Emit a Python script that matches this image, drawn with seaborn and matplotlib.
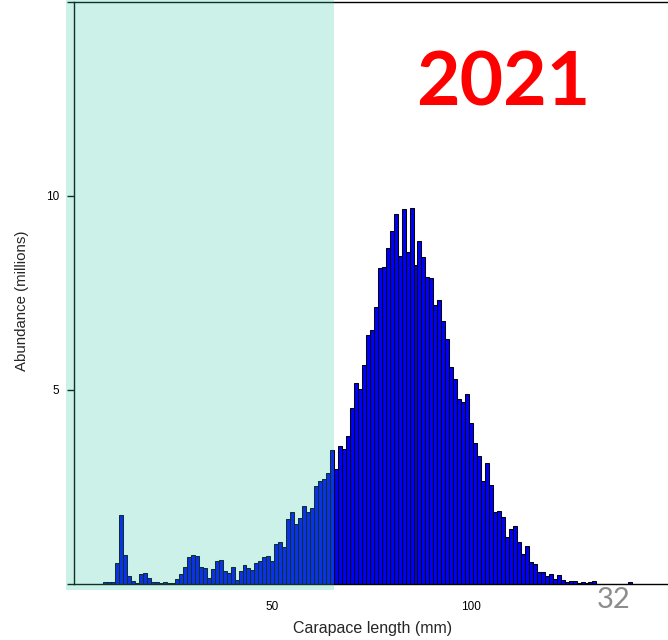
import matplotlib
matplotlib.use("Agg")
import matplotlib.pyplot as plt
from matplotlib.patches import Rectangle
import seaborn as sns
import pandas as pd

# ---- data ----
lengths_mm = list(range(8, 132)) + [140]
abundance_millions = [
    0.04, 0.04, 0.04, 0.54, 1.78, 0.75, 0.20, 0.08, 0.03, 0.26,   # 8-17
    0.29, 0.15, 0.06, 0.06, 0.02, 0.06, 0.02, 0.02, 0.13, 0.26,   # 18-27
    0.45, 0.69, 0.75, 0.72, 0.45, 0.41, 0.15, 0.38, 0.59, 0.62,   # 28-37
    0.34, 0.29, 0.45, 0.11, 0.33, 0.48, 0.40, 0.37, 0.53, 0.59,   # 38-47
    0.70, 0.72, 0.59, 1.02, 1.07, 0.96, 1.67, 1.85, 1.55, 1.69,   # 48-57
    2.01, 1.85, 1.95, 2.53, 2.65, 2.70, 2.86, 3.45, 2.96, 3.56,   # 58-67
    3.48, 3.82, 4.53, 5.18, 5.02, 5.64, 6.42, 6.55, 7.15, 8.14,   # 68-77
    8.17, 8.65, 9.10, 9.53, 8.45, 9.66, 8.56, 9.69, 8.22, 8.85,   # 78-87
    8.44, 7.90, 7.89, 7.18, 7.32, 6.78, 6.31, 5.58, 5.28, 4.77,   # 88-97
    4.69, 4.90, 4.14, 3.63, 3.31, 2.66, 3.13, 2.55, 1.85, 1.88,   # 98-107
    1.73, 1.22, 1.42, 1.49, 1.09, 0.77, 0.99, 0.56, 0.51, 0.32,   # 108-117
    0.32, 0.21, 0.26, 0.13, 0.23, 0.10, 0.05, 0.08, 0.08, 0.02,   # 118-127
    0.05, 0.02, 0.05, 0.08,                                       # 128-131
    0.05,                                                         # 140
]
x_ticks = [50, 100]
x_tick_labels = ["50", "100"]
y_ticks = [0, 5, 10, 15]
y_tick_labels = ["", "5", "10", ""]
title_text = "2021"
page_number = "32"
x_label = "Carapace length (mm)"
y_label = "Abundance (millions)"

df = pd.DataFrame({"length": lengths_mm, "abundance": abundance_millions})

sns.set_style("ticks")
plt.rcParams["font.family"] = ["Liberation Sans", "DejaVu Sans"]

W, H = 668, 640
fig = plt.figure(figsize=(W / 100, H / 100), dpi=100)
ax_left, ax_right, ax_bottom, ax_top = 73.5, 670.0, 584.0, 2.0
ax = fig.add_axes([ax_left / W, 1 - ax_bottom / H,
                   (ax_right - ax_left) / W, (ax_bottom - ax_top) / H])

sns.histplot(data=df, x="length", weights="abundance", discrete=True,
             shrink=1.0, color="#0000FF", edgecolor="black", linewidth=0.75,
             alpha=1.0, ax=ax)

ax.set_xlim(0, 150)
ax.set_ylim(0, 15)
ax.set_xticks(x_ticks)
ax.set_xticklabels(x_tick_labels)
ax.set_yticks(y_ticks)
ax.set_yticklabels(y_tick_labels)
ax.tick_params(axis="x", length=0, pad=12, labelsize=8.5, colors="black")
ax.tick_params(axis="y", length=5, width=1.0, pad=5.5, labelsize=8.5,
               colors="black")

for side in ["left", "bottom", "top"]:
    ax.spines[side].set_visible(True)
    ax.spines[side].set_color("black")
    ax.spines[side].set_linewidth(1.0)
ax.spines["right"].set_visible(False)

ax.set_xlabel(x_label, fontsize=11.5)
ax.set_ylabel(y_label, fontsize=10.8)
ax.xaxis.label.set_va("center")
ax.yaxis.label.set_va("center")
ax.xaxis.set_label_coords((373 - ax_left) / (ax_right - ax_left),
                          (ax_bottom - 628) / (ax_bottom - ax_top))
ax.yaxis.set_label_coords((22 - ax_left) / (ax_right - ax_left),
                          (ax_bottom - 301) / (ax_bottom - ax_top))

# translucent shaded region drawn over the chart (figure overlay)
shade = Rectangle((66 / W, 1 - 590 / H), (334 - 66) / W, 590 / H,
                  transform=fig.transFigure, facecolor=(51 / 255, 203 / 255, 171 / 255),
                  alpha=0.25, edgecolor="none", zorder=10)
fig.add_artist(shade)

fig.text(503 / W, 1 - 105 / H, title_text, color="red", fontweight="bold",
         fontsize=54, family=["Lato", "DejaVu Sans"], ha="center", va="baseline",
         zorder=11)
fig.text(614 / W, 1 - 608 / H, page_number, color="#8c8c8c", fontsize=21,
         family=["Lato", "DejaVu Sans"], ha="center", va="baseline", zorder=11)

fig.savefig("out.png", dpi=100)
